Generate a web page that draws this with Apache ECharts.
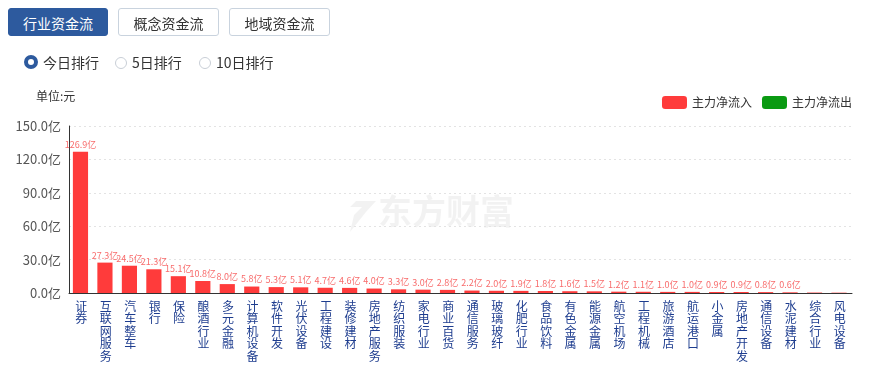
<!DOCTYPE html>
<html>
<head>
<meta charset="utf-8">
<script src="https://cdn.jsdelivr.net/npm/echarts@6/dist/echarts.min.js"></script>
<style>
html,body{margin:0;padding:0;background:#fff;font-family:"Noto Sans CJK SC","Microsoft YaHei",sans-serif;}
#wrap{position:relative;width:877px;height:369px;overflow:hidden;}
#chart{position:absolute;left:0;top:0;width:877px;height:369px;}
.btn{position:absolute;top:8px;height:28px;line-height:28px;border:1px solid #c9d3de;border-radius:3px;background:#fff;color:#333;font-size:14px;text-align:center;box-sizing:border-box;}
.btn.on{background:#2d5a9e;border-color:#2d5a9e;color:#fff;}
.radio{position:absolute;top:53px;font-size:14px;color:#333;height:18px;line-height:18px;}
.radio i{display:inline-block;width:10px;height:10px;border-radius:50%;border:1px solid #c8ced6;vertical-align:-1px;margin-right:5px;box-sizing:content-box;}
.radio.on i{width:6px;height:6px;border:4px solid #2d5a9e;}
</style>
</head>
<body>
<div id="wrap">
<div id="chart"></div>
<div class="btn on" style="left:8px;width:100px;">行业资金流</div>
<div class="btn" style="left:118px;width:101px;">概念资金流</div>
<div class="btn" style="left:229px;width:101px;">地域资金流</div>
<div class="radio on" style="left:24px;"><i></i>今日排行</div>
<div class="radio" style="left:115px;"><i></i>5日排行</div>
<div class="radio" style="left:199px;"><i></i>10日排行</div>
</div>
<script>
var categories = ["证券","互联网服务","汽车整车","银行","保险","酿酒行业","多元金融","计算机设备","软件开发","光伏设备","工程建设","装修建材","房地产服务","纺织服装","家电行业","商业百货","通信服务","玻璃玻纤","化肥行业","食品饮料","有色金属","能源金属","航空机场","工程机械","旅游酒店","航运港口","小金属","房地产开发","通信设备","水泥建材","综合行业","风电设备"];
var inflowValues = [126.9,27.3,24.5,21.3,15.1,10.8,8.0,5.8,5.3,5.1,4.7,4.6,4.0,3.3,3.0,2.8,2.2,2.0,1.9,1.8,1.6,1.5,1.2,1.1,1.0,1.0,0.9,0.9,0.8,0.6,0.4,0.3];
var outflowValues = [];
var yTicks = [0,30,60,90,120,150];
var legendNames = ["主力净流入","主力净流出"];
var unitText = "单位:元";

var chart = echarts.init(document.getElementById('chart'));
chart.setOption({
  animation:false,
  textStyle:{fontFamily:'"Noto Sans CJK SC","Microsoft YaHei",sans-serif'},
  graphic:[
    {type:'text',left:36,top:90,style:{text:unitText,fontSize:12,fill:'#333',fontFamily:'"Noto Sans CJK SC",sans-serif'}},
    {type:'text',left:378,top:194,z:-1,style:{text:'东方财富',fontSize:34,fontWeight:'bold',fill:'rgba(0,0,0,0.05)',fontFamily:'"Noto Sans CJK SC",sans-serif'}},
    {type:'polygon',z:-1,shape:{points:[[356,201],[376,201],[366,212],[350,232],[354,215],[362,207],[350,207]]},style:{fill:'rgba(0,0,0,0.05)'}}
  ],
  legend:{
    right:20, top:91, itemWidth:25, itemHeight:13, itemGap:10,
    data:legendNames,
    textStyle:{fontSize:12,color:'#333'},
    icon:'roundRect'
  },
  grid:{left:69,right:25,top:126,bottom:76,containLabel:false},
  xAxis:{
    type:'category',data:categories,
    axisLine:{lineStyle:{color:'#333'}},
    axisTick:{show:false},
    axisLabel:{
      interval:0,margin:7,fontSize:12,lineHeight:12.5,color:'#1e3d8f',verticalAlign:'top',
      formatter:function(v){return v.split('').join('\n');}
    }
  },
  yAxis:{
    type:'value',min:yTicks[0],max:yTicks[yTicks.length-1],interval:30,
    axisLine:{show:true,lineStyle:{color:'#333'}},
    axisTick:{show:false},
    axisLabel:{fontSize:13,color:'#555',margin:8,formatter:function(v){return v.toFixed(1)+'亿';}},
    splitLine:{lineStyle:{color:'#e3e3e3',type:[2,3]}}
  },
  series:[
    {name:legendNames[0],type:'bar',data:inflowValues,barWidth:'62%',
     itemStyle:{color:'#ff3b3b'},
     label:{show:true,position:'top',distance:3,fontSize:9,color:'#f86c6c',
       formatter:function(p){return p.value>=0.5?p.value.toFixed(1)+'亿':'';}}},
    {name:legendNames[1],type:'bar',data:outflowValues,itemStyle:{color:'#0a9a12'}}
  ]
});
</script>
</body>
</html>
